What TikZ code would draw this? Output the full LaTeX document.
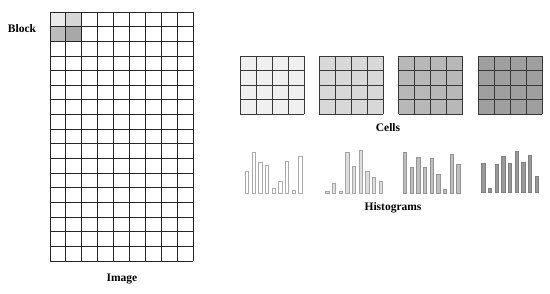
\documentclass[tikz,border=0pt]{standalone}
\usepackage{fontspec}
\setmainfont{Liberation Serif}
\usepackage{xcolor}
\usepackage{tikz}
\usetikzlibrary{positioning}

\definecolor{blkA}{HTML}{EBEBEB}
\definecolor{blkB}{HTML}{D6D6D6}
\definecolor{blkC}{HTML}{BCBCBC}
\definecolor{blkD}{HTML}{A8A8A8}
\definecolor{cellA}{HTML}{F0F0F0}
\definecolor{cellB}{HTML}{D8D8D8}
\definecolor{cellC}{HTML}{B8B8B8}
\definecolor{cellD}{HTML}{9F9F9F}

\begin{document}
\begin{tikzpicture}[
  x=1pt, y=-1pt,
  imgline/.style={draw=black!85, line width=0.9pt},
  cellline/.style={draw=black!78, line width=0.9pt},
  bar/.style={line width=0.6pt},
  lbl/.style={font=\fontsize{11.5}{13}\selectfont\bfseries}
]
  \useasboundingbox (0,0) rectangle (550,293);

  % image with its first block shaded
  \fill[blkA] (50,12) rectangle (65.9,26.65);
  \fill[blkB] (65.9,12) rectangle (81.8,26.65);
  \fill[blkC] (50,26.65) rectangle (65.9,41.3);
  \fill[blkD] (65.9,26.65) rectangle (81.8,41.3);
  \foreach \i in {0,...,9}
    \draw[imgline] (50+\i*15.9,12) -- (50+\i*15.9,261.05);
  \foreach \j in {0,...,17}
    \draw[imgline] (50,12+\j*14.65) -- (193.1,12+\j*14.65);

  \node[lbl] (block) at (22,29) {Block};
  \node[lbl] (image) at (122,279) {Image};

  % the four cells
  \foreach \k/\c in {0/cellA,1/cellB,2/cellC,3/cellD} {
    \fill[\c] (240+\k*79.4,56) rectangle (304+\k*79.4,114);
    \foreach \i in {0,...,4}
      \draw[cellline] (240+\k*79.4+\i*16,56) -- (240+\k*79.4+\i*16,114);
    \foreach \j in {0,...,4}
      \draw[cellline] (240+\k*79.4,56+\j*14.5) -- (304+\k*79.4,56+\j*14.5);
  }
  \node[lbl] (cells) at (388,128) {Cells};

  % one histogram per cell
  \foreach \hx/\base/\fc/\dc/\hs in {
      245.3/193.3/white/black!33/{21.7,40.7,31,28,5,12,31.7,2.7,37.3},
      325.7/193.0/black!13/black!35/{1.7,10,1.7,41,26.7,42.7,21.7,15.7,11.7},
      403.3/193.0/black!25/black!42/{41,26,36,25.3,34.7,18.3,4,38.3,28.7},
      481.7/192.0/black!40/black!50/{29,4,27.3,35.7,28.3,40.7,29.7,36.7,15.7}} {
    \foreach \h [count=\i from 0] in \hs
      \filldraw[bar, fill=\fc, draw=\dc] (\hx+\i*6.67,\base) rectangle (\hx+\i*6.67+3.4,\base-\h);
  }
  \node[lbl] (hists) at (393,208) {Histograms};
\end{tikzpicture}
\end{document}
